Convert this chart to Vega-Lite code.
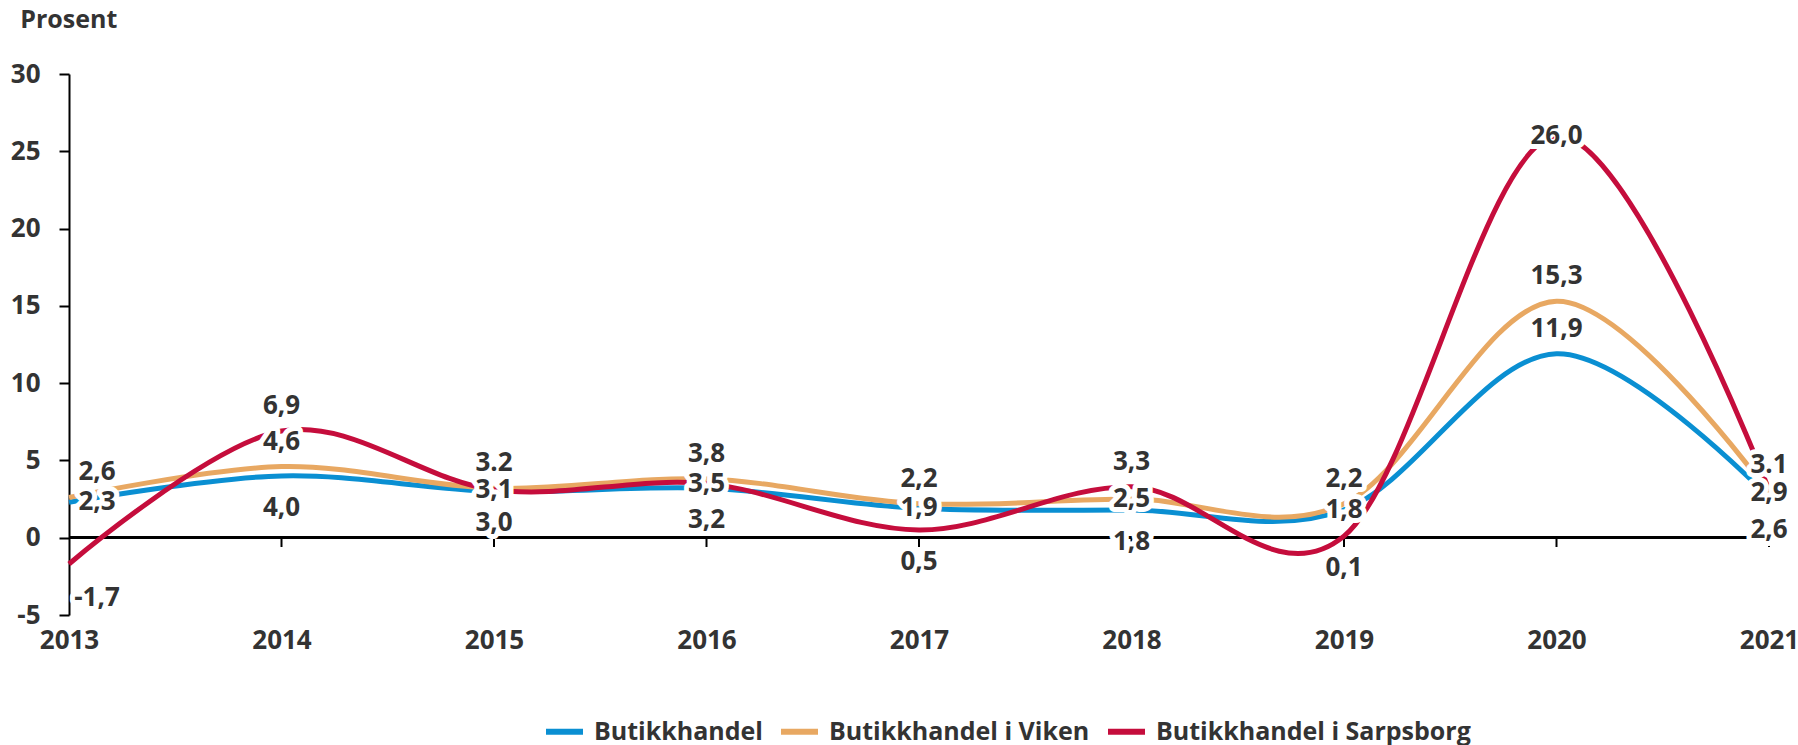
{
  "$schema": "https://vega.github.io/schema/vega-lite/v6.json",
  "width": 1700,
  "height": 541,
  "autosize": "none",
  "padding": {"left": 69, "top": 74, "right": 29, "bottom": 130},
  "background": "white",
  "title": {"text": "Prosent", "anchor": "start", "frame": "bounds", "fontSize": 25, "fontWeight": "bold", "font": "Open Sans", "color": "#333333", "offset": 28, "dx": 10},
  "data": {"values": [
    {"year": 2013, "series": "Butikkhandel", "value": 2.3, "label": "2,3"},
    {"year": 2014, "series": "Butikkhandel", "value": 4.0, "label": "4,0"},
    {"year": 2015, "series": "Butikkhandel", "value": 3.0, "label": "3,0"},
    {"year": 2016, "series": "Butikkhandel", "value": 3.2, "label": "3,2"},
    {"year": 2017, "series": "Butikkhandel", "value": 1.9, "label": "1,9"},
    {"year": 2018, "series": "Butikkhandel", "value": 1.8, "label": "1,8"},
    {"year": 2019, "series": "Butikkhandel", "value": 1.8, "label": "1,8"},
    {"year": 2020, "series": "Butikkhandel", "value": 11.9, "label": "11,9"},
    {"year": 2021, "series": "Butikkhandel", "value": 2.6, "label": "2,6"},
    {"year": 2013, "series": "Butikkhandel i Viken", "value": 2.6, "label": "2,6"},
    {"year": 2014, "series": "Butikkhandel i Viken", "value": 4.6, "label": "4,6"},
    {"year": 2015, "series": "Butikkhandel i Viken", "value": 3.2, "label": "3.2"},
    {"year": 2016, "series": "Butikkhandel i Viken", "value": 3.8, "label": "3,8"},
    {"year": 2017, "series": "Butikkhandel i Viken", "value": 2.2, "label": "2,2"},
    {"year": 2018, "series": "Butikkhandel i Viken", "value": 2.5, "label": "2,5"},
    {"year": 2019, "series": "Butikkhandel i Viken", "value": 2.2, "label": "2,2"},
    {"year": 2020, "series": "Butikkhandel i Viken", "value": 15.3, "label": "15,3"},
    {"year": 2021, "series": "Butikkhandel i Viken", "value": 2.9, "label": "2,9"},
    {"year": 2013, "series": "Butikkhandel i Sarpsborg", "value": -1.7, "label": "-1,7"},
    {"year": 2014, "series": "Butikkhandel i Sarpsborg", "value": 6.9, "label": "6,9"},
    {"year": 2015, "series": "Butikkhandel i Sarpsborg", "value": 3.1, "label": "3,1"},
    {"year": 2016, "series": "Butikkhandel i Sarpsborg", "value": 3.5, "label": "3,5"},
    {"year": 2017, "series": "Butikkhandel i Sarpsborg", "value": 0.5, "label": "0,5"},
    {"year": 2018, "series": "Butikkhandel i Sarpsborg", "value": 3.3, "label": "3,3"},
    {"year": 2019, "series": "Butikkhandel i Sarpsborg", "value": 0.1, "label": "0,1"},
    {"year": 2020, "series": "Butikkhandel i Sarpsborg", "value": 26.0, "label": "26,0"},
    {"year": 2021, "series": "Butikkhandel i Sarpsborg", "value": 3.1, "label": "3.1"}
  ]},
  "config": {
    "view": {"stroke": null},
    "axis": {"labelFont": "Open Sans", "grid": false}
  },
  "layer": [
    {
      "mark": {"type": "rule", "color": "black", "strokeWidth": 2},
      "encoding": {"y": {"datum": 0}}
    },
    {
      "transform": [{"filter": "datum.series == 'Butikkhandel' && datum.year > 2013"}],
      "mark": {"type": "rule", "color": "black", "strokeWidth": 2},
      "encoding": {
        "x": {"field": "year", "type": "quantitative"},
        "y": {"datum": 0},
        "y2": {"datum": -0.6}
      }
    },
    {
      "mark": {"type": "line", "interpolate": "cardinal", "tension": 0, "strokeWidth": 5},
      "encoding": {
        "x": {
          "field": "year", "type": "quantitative",
          "scale": {"domain": [2013, 2021], "nice": false, "zero": false},
          "axis": {"values": [2013, 2014, 2015, 2016, 2017, 2018, 2019, 2020, 2021], "format": "d", "title": null, "domain": false, "ticks": false, "labelFontSize": 26, "labelFontWeight": "bold", "labelColor": "#333333", "labelPadding": 12, "labelFlush": false, "labelOverlap": false}
        },
        "y": {
          "field": "value", "type": "quantitative",
          "scale": {"domain": [-5, 30], "nice": false, "zero": false},
          "axis": {"values": [-5, 0, 5, 10, 15, 20, 25, 30], "title": null, "domainColor": "black", "domainWidth": 2, "tickColor": "black", "tickWidth": 2, "tickSize": 10, "labelFontSize": 26, "labelFontWeight": "bold", "labelColor": "#333333", "labelPadding": 19, "labelExpr": "replace(datum.label, '\u2212', '-')"}
        },
        "color": {
          "field": "series", "type": "nominal",
          "scale": {"domain": ["Butikkhandel", "Butikkhandel i Viken", "Butikkhandel i Sarpsborg"], "range": ["#0A8FD2", "#E8A862", "#C50D3C"]},
          "legend": {"title": null, "orient": "none", "legendX": 474, "legendY": 636, "direction": "horizontal", "symbolType": "stroke", "symbolStrokeWidth": 6, "symbolSize": 1369, "labelFontSize": 25, "labelFontWeight": "bold", "labelColor": "#333333", "labelFont": "Open Sans", "columnPadding": 6, "labelOffset": 8, "labelLimit": 500, "padding": 0}
        }
      }
    },
    {
      "transform": [{"filter": "(datum.series=='Butikkhandel i Viken' && indexof([2014,2015,2016,2017,2019,2020], datum.year) >= 0) || (datum.series=='Butikkhandel i Sarpsborg' && indexof([2014,2018,2021], datum.year) >= 0) || (datum.series=='Butikkhandel' && datum.year==2020)"}],
      "encoding": {"x": {"field": "year", "type": "quantitative"}, "y": {"field": "value", "type": "quantitative"}, "text": {"field": "label"}},
      "layer": [
        {"mark": {"type": "text", "dy": -25, "fontSize": 26, "fontWeight": "bold", "font": "Open Sans", "fill": "white", "stroke": "white", "strokeWidth": 10, "strokeJoin": "round"}},
        {"mark": {"type": "text", "dy": -25, "fontSize": 26, "fontWeight": "bold", "font": "Open Sans", "color": "#333333"}}
      ]
    },
    {
      "transform": [{"filter": "(datum.series=='Butikkhandel' && indexof([2017,2019], datum.year) >= 0) || (datum.series=='Butikkhandel i Viken' && indexof([2018,2021], datum.year) >= 0) || (datum.series=='Butikkhandel i Sarpsborg' && indexof([2015,2016,2020], datum.year) >= 0)"}],
      "encoding": {"x": {"field": "year", "type": "quantitative"}, "y": {"field": "value", "type": "quantitative"}, "text": {"field": "label"}},
      "layer": [
        {"mark": {"type": "text", "dy": 0, "fontSize": 26, "fontWeight": "bold", "font": "Open Sans", "fill": "white", "stroke": "white", "strokeWidth": 10, "strokeJoin": "round"}},
        {"mark": {"type": "text", "dy": 0, "fontSize": 26, "fontWeight": "bold", "font": "Open Sans", "color": "#333333"}}
      ]
    },
    {
      "transform": [{"filter": "(datum.series=='Butikkhandel' && indexof([2014,2015,2016,2018,2021], datum.year) >= 0) || (datum.series=='Butikkhandel i Sarpsborg' && indexof([2017,2019], datum.year) >= 0)"}],
      "encoding": {"x": {"field": "year", "type": "quantitative"}, "y": {"field": "value", "type": "quantitative"}, "text": {"field": "label"}},
      "layer": [
        {"mark": {"type": "text", "dy": 32, "fontSize": 26, "fontWeight": "bold", "font": "Open Sans", "fill": "white", "stroke": "white", "strokeWidth": 10, "strokeJoin": "round"}},
        {"mark": {"type": "text", "dy": 32, "fontSize": 26, "fontWeight": "bold", "font": "Open Sans", "color": "#333333"}}
      ]
    },
    {
      "transform": [{"filter": "datum.year==2013 && datum.series=='Butikkhandel i Viken'"}],
      "encoding": {"x": {"field": "year", "type": "quantitative"}, "y": {"field": "value", "type": "quantitative"}, "text": {"field": "label"}},
      "layer": [
        {"mark": {"type": "text", "dx": 28, "dy": -26, "fontSize": 26, "fontWeight": "bold", "font": "Open Sans", "fill": "white", "stroke": "white", "strokeWidth": 10, "strokeJoin": "round"}},
        {"mark": {"type": "text", "dx": 28, "dy": -26, "fontSize": 26, "fontWeight": "bold", "font": "Open Sans", "color": "#333333"}}
      ]
    },
    {
      "transform": [{"filter": "datum.year==2013 && datum.series=='Butikkhandel'"}],
      "encoding": {"x": {"field": "year", "type": "quantitative"}, "y": {"field": "value", "type": "quantitative"}, "text": {"field": "label"}},
      "layer": [
        {"mark": {"type": "text", "dx": 28, "dy": 0, "fontSize": 26, "fontWeight": "bold", "font": "Open Sans", "fill": "white", "stroke": "white", "strokeWidth": 10, "strokeJoin": "round"}},
        {"mark": {"type": "text", "dx": 28, "dy": 0, "fontSize": 26, "fontWeight": "bold", "font": "Open Sans", "color": "#333333"}}
      ]
    },
    {
      "transform": [{"filter": "datum.year==2013 && datum.series=='Butikkhandel i Sarpsborg'"}],
      "encoding": {"x": {"field": "year", "type": "quantitative"}, "y": {"field": "value", "type": "quantitative"}, "text": {"field": "label"}},
      "layer": [
        {"mark": {"type": "text", "dx": 28, "dy": 34, "fontSize": 26, "fontWeight": "bold", "font": "Open Sans", "fill": "white", "stroke": "white", "strokeWidth": 10, "strokeJoin": "round"}},
        {"mark": {"type": "text", "dx": 28, "dy": 34, "fontSize": 26, "fontWeight": "bold", "font": "Open Sans", "color": "#333333"}}
      ]
    }
  ]
}
